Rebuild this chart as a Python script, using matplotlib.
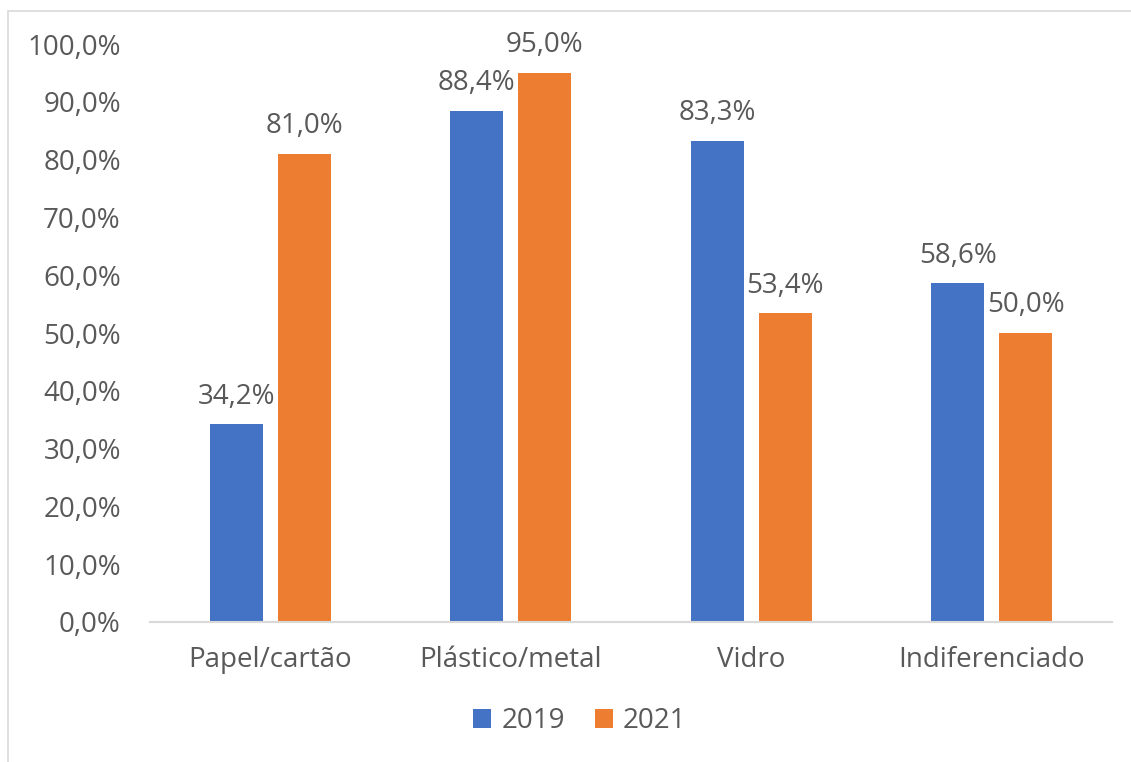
import matplotlib
matplotlib.use("Agg")
import matplotlib.pyplot as plt
import numpy as np
from matplotlib.patches import Rectangle

categories = ["Papel/cartão", "Plástico/metal", "Vidro", "Indiferenciado"]
series_names = ["2019", "2021"]
values_2019 = [34.2, 88.4, 83.3, 58.6]
values_2021 = [81.0, 95.0, 53.4, 50.0]
yticks = [0, 10, 20, 30, 40, 50, 60, 70, 80, 90, 100]

plt.rcParams['font.family'] = ['Open Sans', 'DejaVu Sans']
txt = '#595959'
colors = ['#4472C4', '#ED7D31']
FS = 20

W, H = 1131, 762
fig = plt.figure(figsize=(W/100, H/100), dpi=100)
ax = fig.add_axes([150/W, 1-622/H, (1112-150)/W, (622-44)/H])

x = np.arange(len(categories))
bw = 0.22
off = 0.142
for vals, c, o, name in [(values_2019, colors[0], -off, series_names[0]),
                         (values_2021, colors[1], off, series_names[1])]:
    bars = ax.bar(x + o, vals, width=bw, color=c, label=name, zorder=2)
    for b, v in zip(bars, vals):
        ax.annotate(f"{v:.1f}%".replace('.', ','), (b.get_x() + b.get_width()/2, v),
                    xytext=(0, 20), textcoords='offset points',
                    ha='center', va='center', fontsize=FS, color=txt)

ax.set_xlim(-0.5, len(categories) - 0.5)
ax.set_ylim(0, 100)
ax.set_yticks(yticks)
ax.set_yticklabels([f"{t:.1f}%".replace('.', ',') for t in yticks], fontsize=FS, color=txt)
ax.set_xticks(x)
ax.set_xticklabels(categories, fontsize=FS, color=txt)
ax.tick_params(axis='both', length=0)
ax.tick_params(axis='y', pad=21)
ax.tick_params(axis='x', pad=17)
for s in ['top', 'right', 'left']:
    ax.spines[s].set_visible(False)
ax.spines['bottom'].set_color('#d9d9d9')
ax.spines['bottom'].set_linewidth(1.5)

leg = fig.legend(loc='center', bbox_to_anchor=(580/W, 1-721/H), ncol=2, frameon=False,
                 fontsize=FS, handlelength=0.65, handleheight=0.65, columnspacing=1.1,
                 handletextpad=0.35)
for t in leg.get_texts():
    t.set_color(txt)

fig.patches.append(Rectangle((8/W, -0.1), 1.2, 1 - 11/H + 0.1, transform=fig.transFigure,
                             fill=False, edgecolor='#d9d9d9', linewidth=1.2))

fig.savefig('out.png', dpi=100)
